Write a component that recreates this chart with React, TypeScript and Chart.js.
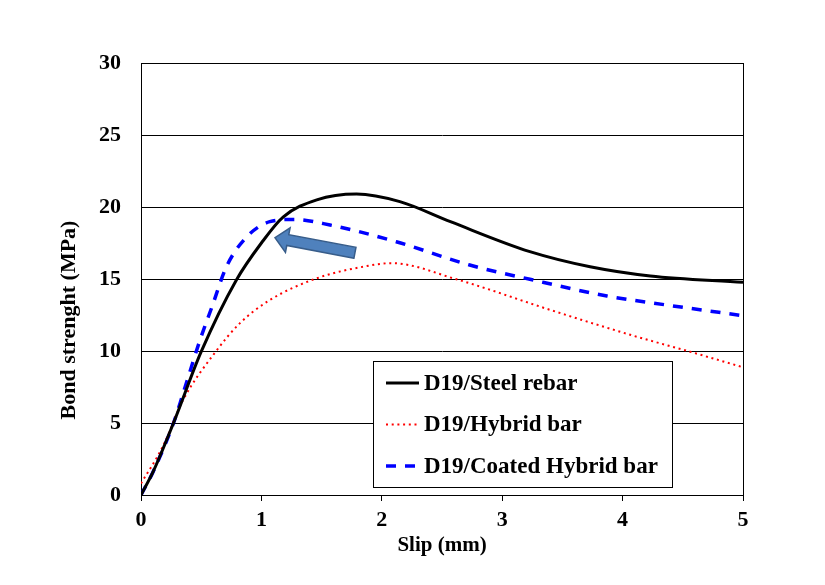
import React, { useEffect, useRef } from "react";
import { Chart, registerables } from "chart.js";

Chart.register(...registerables);

// ---- Data ----
const seriesLabels = ["D19/Steel rebar", "D19/Hybrid bar", "D19/Coated Hybrid bar"];

const steelSlip = [0, 0.1, 0.27, 0.5, 0.79, 1.0, 1.18, 1.46, 1.79, 2.15, 2.57, 3.23, 3.73, 4.23, 5.0];
const steelBond = [0, 1.6, 5.0, 9.95, 14.9, 17.5, 19.3, 20.5, 20.9, 20.37, 18.98, 16.9, 15.85, 15.21, 14.77];

const hybridSlip = [0, 0.18, 0.35, 0.61, 0.82, 1.07, 1.46, 1.85, 2.08, 2.62, 3.4, 4.09, 4.56, 5.0];
const hybridBond = [0.8, 3.35, 6.6, 9.84, 11.92, 13.54, 15.05, 15.86, 16.1, 14.98, 12.85, 11.06, 9.95, 8.87];

const coatedSlip = [0, 0.1, 0.27, 0.35, 0.49, 0.59, 0.71, 0.88, 1.07, 1.27, 1.57, 2.12, 2.73, 3.23, 3.87, 4.37, 5.0];
const coatedBond = [0, 1.6, 5.0, 7.06, 10.76, 13.08, 15.86, 17.94, 18.98, 19.14, 18.75, 17.59, 15.97, 14.98, 13.82, 13.19, 12.45];

const xTicks = [0, 1, 2, 3, 4, 5];
const yTicks = [0, 5, 10, 15, 20, 25, 30];

// arrow annotation in data units: [slip, bond]
const arrowTail = [1.777, 16.82];
const arrowTip = [1.113, 17.87];

const xTitle = "Slip (mm)";
const yTitle = "Bond strenght (MPa)";

const FAMILY = '"Liberation Serif", "Times New Roman", serif';

function pairs(xs: number[], ys: number[]) {
  return xs.map((x, i) => ({ x, y: ys[i] }));
}

const framePlugin = {
  id: "frame",
  beforeDatasetsDraw(chart: any) {
    const { ctx, chartArea } = chart;
    ctx.save();
    ctx.strokeStyle = "#000";
    ctx.lineWidth = 1;
    ctx.strokeRect(
      Math.round(chartArea.left) + 0.5,
      Math.round(chartArea.top) + 0.5,
      Math.round(chartArea.right - chartArea.left),
      Math.round(chartArea.bottom - chartArea.top)
    );
    ctx.restore();
  },
};

const arrowPlugin = {
  id: "arrow",
  afterDatasetsDraw(chart: any) {
    const { ctx, scales } = chart;
    const x0 = scales.x.getPixelForValue(arrowTail[0]);
    const y0 = scales.y.getPixelForValue(arrowTail[1]);
    const x1 = scales.x.getPixelForValue(arrowTip[0]);
    const y1 = scales.y.getPixelForValue(arrowTip[1]);
    const ang = Math.atan2(y1 - y0, x1 - x0);
    const len = Math.hypot(x1 - x0, y1 - y0);
    const sw = 5.5;
    const hw = 12.5;
    const hl = 13;
    ctx.save();
    ctx.translate(x0, y0);
    ctx.rotate(ang);
    ctx.beginPath();
    ctx.moveTo(0, -sw);
    ctx.lineTo(len - hl, -sw);
    ctx.lineTo(len - hl, -hw);
    ctx.lineTo(len, 0);
    ctx.lineTo(len - hl, hw);
    ctx.lineTo(len - hl, sw);
    ctx.lineTo(0, sw);
    ctx.closePath();
    ctx.fillStyle = "#4F81BD";
    ctx.fill();
    ctx.strokeStyle = "#385D8A";
    ctx.lineWidth = 1.5;
    ctx.stroke();
    ctx.restore();
  },
};

const legendPlugin = {
  id: "boxLegend",
  afterDatasetsDraw(chart: any) {
    const { ctx, chartArea } = chart;
    const left = Math.round(chartArea.left) + 232;
    const top = Math.round(chartArea.top) + 298;
    const w = 299;
    const h = 126;
    ctx.save();
    ctx.fillStyle = "#fff";
    ctx.fillRect(left, top, w, h);
    ctx.strokeStyle = "#000";
    ctx.lineWidth = 1;
    ctx.strokeRect(left + 0.5, top + 0.5, w, h);
    chart.data.datasets.forEach((ds: any, i: number) => {
      const y = top + 22 + i * 41.5;
      ctx.beginPath();
      ctx.setLineDash(ds.borderDash || []);
      ctx.strokeStyle = ds.borderColor;
      ctx.lineWidth = ds.borderWidth;
      ctx.moveTo(left + 13, y);
      ctx.lineTo(left + 46, y);
      ctx.stroke();
      ctx.setLineDash([]);
      ctx.fillStyle = "#000";
      ctx.font = `bold 23px ${FAMILY}`;
      ctx.textBaseline = "middle";
      ctx.textAlign = "left";
      ctx.fillText(ds.label, left + 51, y + 1);
    });
    ctx.restore();
  },
};

const yTitlePlugin = {
  id: "yTitle",
  afterDraw(chart: any) {
    const { ctx } = chart;
    ctx.save();
    ctx.translate(69, 320);
    ctx.rotate(-Math.PI / 2);
    ctx.fillStyle = "#000";
    ctx.font = `bold 22px ${FAMILY}`;
    ctx.textAlign = "center";
    ctx.textBaseline = "middle";
    ctx.fillText(yTitle, 0, 0);
    ctx.restore();
  },
};

export default function App() {
  const canvasRef = useRef<HTMLCanvasElement | null>(null);

  useEffect(() => {
    if (!canvasRef.current) return;
    const tickFont = { family: FAMILY, size: 22, weight: "bold" as const };
    const chart = new Chart(canvasRef.current, {
      type: "line",
      data: {
        datasets: [
          {
            label: seriesLabels[0],
            data: pairs(steelSlip, steelBond),
            borderColor: "#000000",
            borderWidth: 3,
            borderDash: [],
            pointRadius: 0,
            cubicInterpolationMode: "monotone",
            fill: false,
          },
          {
            label: seriesLabels[1],
            data: pairs(hybridSlip, hybridBond),
            borderColor: "#FF0000",
            borderWidth: 2,
            borderDash: [2, 3.7],
            pointRadius: 0,
            cubicInterpolationMode: "monotone",
            fill: false,
          },
          {
            label: seriesLabels[2],
            data: pairs(coatedSlip, coatedBond),
            borderColor: "#0000FF",
            borderWidth: 3.5,
            borderDash: [10, 9],
            pointRadius: 0,
            cubicInterpolationMode: "monotone",
            fill: false,
          },
        ],
      },
      options: {
        responsive: false,
        animation: false,
        events: [],
        layout: { padding: { left: 0, top: 63, right: 82, bottom: 0 } },
        plugins: {
          legend: { display: false },
          tooltip: { enabled: false },
        },
        scales: {
          x: {
            type: "linear",
            min: xTicks[0],
            max: xTicks[xTicks.length - 1],
            afterBuildTicks: (s: any) => {
              s.ticks = xTicks.map((v) => ({ value: v }));
            },
            afterFit: (s: any) => {
              s.height = 90;
            },
            grid: {
              drawOnChartArea: false,
              drawTicks: true,
              tickLength: 6,
              color: "#000",
              lineWidth: 1,
            },
            border: { display: true, color: "#000", width: 1 },
            ticks: { color: "#000", font: tickFont, padding: 6, maxRotation: 0 },
            title: {
              display: true,
              text: xTitle,
              color: "#000",
              font: { family: FAMILY, size: 21, weight: "bold" },
              padding: { top: 0, bottom: 27 },
            },
          },
          y: {
            type: "linear",
            min: yTicks[0],
            max: yTicks[yTicks.length - 1],
            afterBuildTicks: (s: any) => {
              s.ticks = yTicks.map((v) => ({ value: v }));
            },
            afterFit: (s: any) => {
              s.width = 141;
            },
            grid: { drawTicks: false, color: "#000", lineWidth: 1 },
            border: { display: true, color: "#000", width: 1 },
            ticks: { color: "#000", font: tickFont, padding: 20 },
            title: { display: false },
          },
        },
      },
      plugins: [framePlugin, arrowPlugin, legendPlugin, yTitlePlugin],
    } as any);
    return () => chart.destroy();
  }, []);

  return (
    <div style={{ position: "absolute", left: 0, top: 0, width: 825, height: 585, background: "#fff" }}>
      <canvas ref={canvasRef} width={825} height={585} style={{ display: "block", width: 825, height: 585 }} />
    </div>
  );
}
